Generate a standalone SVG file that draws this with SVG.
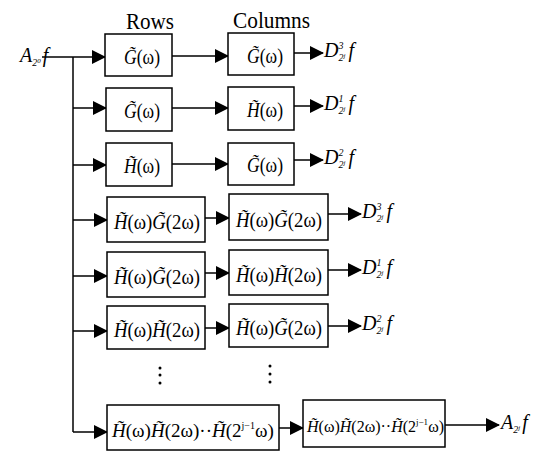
<svg xmlns="http://www.w3.org/2000/svg" width="544" height="451" viewBox="0 0 544 451" font-family="'Liberation Serif', 'Times New Roman', Times, serif">
<defs>
<marker id="ah" markerUnits="userSpaceOnUse" markerWidth="14" markerHeight="14" viewBox="0 0 14 14" refX="13" refY="7" orient="auto">
<path d="M0,0 L14,7 L0,14 Z" fill="#000"/>
</marker>
</defs>
<style>
.box{fill:#fff;stroke:#000;stroke-width:1.5}
.ln{fill:none;stroke:#000;stroke-width:1.5}
.ar{fill:none;stroke:#000;stroke-width:1.5;marker-end:url(#ah)}
text{font-family:'Liberation Serif','Times New Roman',Times,serif;fill:#000}
.t{font-size:20px;text-anchor:middle}
.i{font-style:italic}
.hd{font-size:24px}
.lab{font-size:20px;font-style:italic}
.dot{fill:#000}
</style>
<rect width="544" height="451" fill="#fff"/>
<text class="hd" x="126" y="29" textLength="48" lengthAdjust="spacingAndGlyphs">Rows</text>
<text class="hd" x="233" y="28" textLength="77" lengthAdjust="spacingAndGlyphs">Columns</text>

<g id="input"><text class="lab" x="20" y="62">A<tspan font-size="10" dy="4">2</tspan><tspan font-size="7" dy="-3">0</tspan><tspan dy="-1" dx="2">f</tspan></text></g>

<g id="connectors">
<line class="ln" x1="42" y1="57" x2="73" y2="57"/>
<line class="ln" x1="73" y1="57" x2="73" y2="432"/>
<line class="ar" x1="73" y1="57" x2="105" y2="57"/>
<line class="ar" x1="73" y1="108" x2="106" y2="108"/>
<line class="ar" x1="73" y1="165" x2="106" y2="165"/>
<line class="ar" x1="73" y1="220" x2="107" y2="220"/>
<line class="ar" x1="73" y1="276" x2="107" y2="276"/>
<line class="ar" x1="73" y1="331" x2="107" y2="331"/>
<line class="ar" x1="73" y1="432" x2="107" y2="432"/>
<line class="ar" x1="172" y1="56" x2="228" y2="56"/>
<line class="ar" x1="172" y1="108" x2="228" y2="108"/>
<line class="ar" x1="172" y1="164" x2="228" y2="164"/>
<line class="ar" x1="205" y1="218" x2="229" y2="218"/>
<line class="ar" x1="205" y1="273" x2="229" y2="273"/>
<line class="ar" x1="205" y1="328" x2="229" y2="328"/>
<line class="ar" x1="279" y1="428" x2="303" y2="428"/>
<line class="ar" x1="294" y1="53" x2="323" y2="53"/>
<line class="ar" x1="294" y1="106" x2="323" y2="106"/>
<line class="ar" x1="294" y1="160" x2="323" y2="160"/>
<line class="ar" x1="328" y1="214" x2="361" y2="214"/>
<line class="ar" x1="328" y1="270" x2="361" y2="270"/>
<line class="ar" x1="328" y1="326" x2="361" y2="326"/>
<line class="ar" x1="445" y1="425" x2="499" y2="425"/>
</g>

<g id="r1c1"><rect class="box" x="105" y="34" width="67" height="42"/><text class="t" x="142" y="64" textLength="36" lengthAdjust="spacingAndGlyphs"><tspan class="i">G̃</tspan>(ω)</text></g>
<g id="r1c2"><rect class="box" x="228" y="33" width="66" height="42"/><text class="t" x="265" y="63" textLength="36" lengthAdjust="spacingAndGlyphs"><tspan class="i">G̃</tspan>(ω)</text></g>
<g id="r2c1"><rect class="box" x="106" y="88" width="66" height="43"/><text class="t" x="142" y="118" textLength="36" lengthAdjust="spacingAndGlyphs"><tspan class="i">G̃</tspan>(ω)</text></g>
<g id="r2c2"><rect class="box" x="228" y="87" width="66" height="43"/><text class="t" x="265" y="117" textLength="36" lengthAdjust="spacingAndGlyphs"><tspan class="i">H̃</tspan>(ω)</text></g>
<g id="r3c1"><rect class="box" x="106" y="143" width="66" height="43"/><text class="t" x="142" y="173" textLength="36" lengthAdjust="spacingAndGlyphs"><tspan class="i">H̃</tspan>(ω)</text></g>
<g id="r3c2"><rect class="box" x="228" y="143" width="66" height="42"/><text class="t" x="265" y="172" textLength="36" lengthAdjust="spacingAndGlyphs"><tspan class="i">G̃</tspan>(ω)</text></g>
<g id="r4c1"><rect class="box" x="107" y="197" width="98" height="45"/><text class="t" x="157" y="229" textLength="86" lengthAdjust="spacingAndGlyphs"><tspan class="i">H̃</tspan>(ω)<tspan class="i">G̃</tspan>(2ω)</text></g>
<g id="r4c2"><rect class="box" x="229" y="194" width="99" height="46"/><text class="t" x="279" y="227" textLength="86" lengthAdjust="spacingAndGlyphs"><tspan class="i">H̃</tspan>(ω)<tspan class="i">G̃</tspan>(2ω)</text></g>
<g id="r5c1"><rect class="box" x="107" y="252" width="98" height="45"/><text class="t" x="157" y="284" textLength="86" lengthAdjust="spacingAndGlyphs"><tspan class="i">H̃</tspan>(ω)<tspan class="i">G̃</tspan>(2ω)</text></g>
<g id="r5c2"><rect class="box" x="229" y="250" width="99" height="45"/><text class="t" x="279" y="282" textLength="86" lengthAdjust="spacingAndGlyphs"><tspan class="i">H̃</tspan>(ω)<tspan class="i">H̃</tspan>(2ω)</text></g>
<g id="r6c1"><rect class="box" x="107" y="306" width="98" height="43"/><text class="t" x="157" y="337" textLength="86" lengthAdjust="spacingAndGlyphs"><tspan class="i">H̃</tspan>(ω)<tspan class="i">H̃</tspan>(2ω)</text></g>
<g id="r6c2"><rect class="box" x="229" y="304" width="99" height="43"/><text class="t" x="279" y="335" textLength="86" lengthAdjust="spacingAndGlyphs"><tspan class="i">H̃</tspan>(ω)<tspan class="i">G̃</tspan>(2ω)</text></g>
<g id="r7c1"><rect class="box" x="107" y="405" width="172" height="45"/><text class="t" x="112" y="437" style="text-anchor:start;font-size:19px"><tspan class="i">H̃</tspan>(ω)<tspan class="i">H̃</tspan>(2ω)··<tspan class="i">H̃</tspan>(2<tspan font-size="10" dy="-8">j−1</tspan><tspan dy="8">ω)</tspan></text></g>
<g id="r7c2"><rect class="box" x="303" y="400" width="142" height="47"/><text class="t" x="307" y="432" style="text-anchor:start;font-size:16px"><tspan class="i">H̃</tspan>(ω)<tspan class="i">H̃</tspan>(2ω)··<tspan class="i">H̃</tspan>(2<tspan font-size="9" dy="-7">j−1</tspan><tspan dy="7">ω)</tspan></text></g>

<g id="dots">
<circle class="dot" cx="160" cy="368" r="1.5"/><circle class="dot" cx="160" cy="375" r="1.5"/><circle class="dot" cx="160" cy="383" r="1.5"/>
<circle class="dot" cx="270" cy="366" r="1.5"/><circle class="dot" cx="270" cy="374" r="1.5"/><circle class="dot" cx="270" cy="382" r="1.5"/>
</g>

<g id="out1"><text class="lab" x="324" y="57">D<tspan font-size="10" dy="-8">3</tspan><tspan font-size="10" dx="-5" dy="12">2</tspan><tspan font-size="7" dy="-3">j</tspan><tspan dy="-1" dx="3">f</tspan></text></g>
<g id="out2"><text class="lab" x="324" y="110">D<tspan font-size="10" dy="-8">1</tspan><tspan font-size="10" dx="-5" dy="12">2</tspan><tspan font-size="7" dy="-3">j</tspan><tspan dy="-1" dx="3">f</tspan></text></g>
<g id="out3"><text class="lab" x="324" y="164">D<tspan font-size="10" dy="-8">2</tspan><tspan font-size="10" dx="-5" dy="12">2</tspan><tspan font-size="7" dy="-3">j</tspan><tspan dy="-1" dx="3">f</tspan></text></g>
<g id="out4"><text class="lab" x="362" y="218">D<tspan font-size="10" dy="-8">3</tspan><tspan font-size="10" dx="-5" dy="12">2</tspan><tspan font-size="7" dy="-3">j</tspan><tspan dy="-1" dx="3">f</tspan></text></g>
<g id="out5"><text class="lab" x="362" y="274">D<tspan font-size="10" dy="-8">1</tspan><tspan font-size="10" dx="-5" dy="12">2</tspan><tspan font-size="7" dy="-3">j</tspan><tspan dy="-1" dx="3">f</tspan></text></g>
<g id="out6"><text class="lab" x="362" y="330">D<tspan font-size="10" dy="-8">2</tspan><tspan font-size="10" dx="-5" dy="12">2</tspan><tspan font-size="7" dy="-3">j</tspan><tspan dy="-1" dx="3">f</tspan></text></g>
<g id="out7"><text class="lab" x="501" y="429">A<tspan font-size="10" dy="4">2</tspan><tspan font-size="7" dy="-3">j</tspan><tspan dy="-1" dx="2">f</tspan></text></g>
</svg>
